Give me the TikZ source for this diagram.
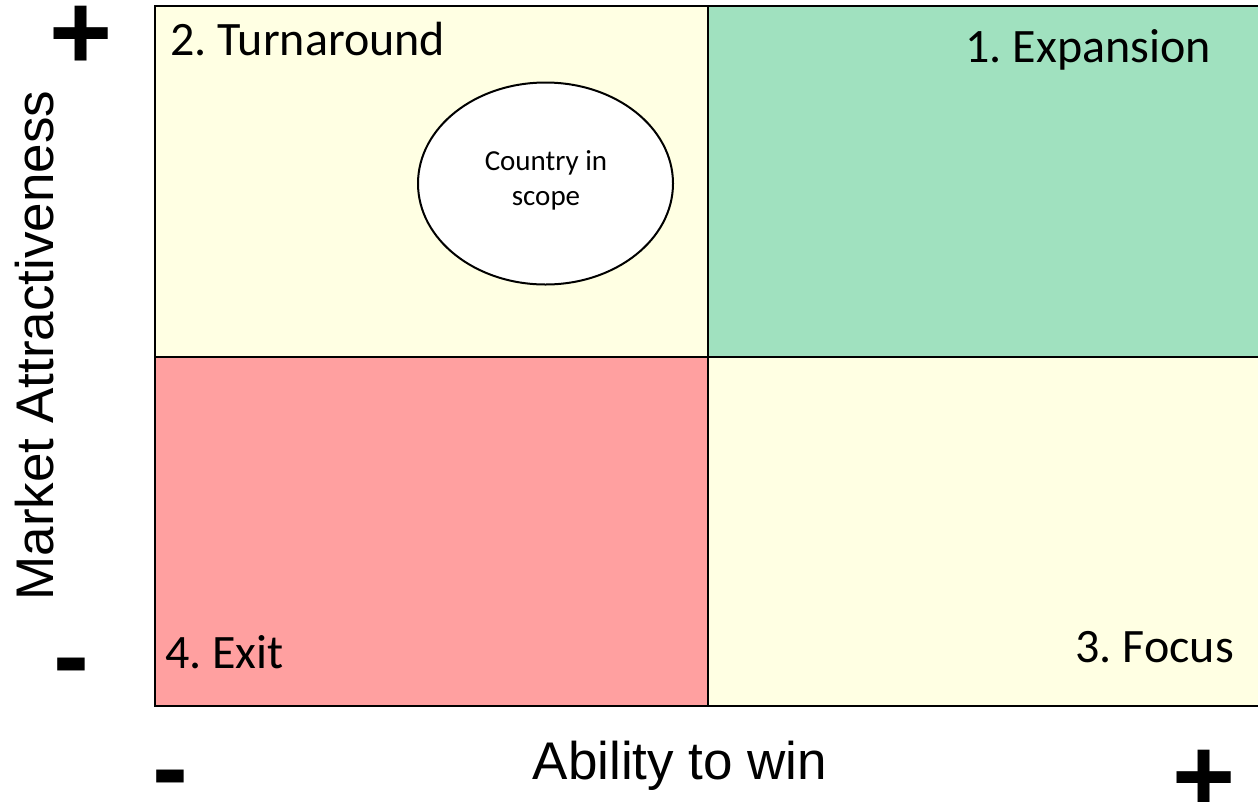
\documentclass[tikz,border=0pt]{standalone}
\usepackage{fontspec}
\setmainfont{Carlito}
\newfontfamily\axisfont{Liberation Sans}
\usetikzlibrary{shapes.geometric}
\definecolor{quadyellow}{HTML}{FFFFE3}
\definecolor{quadgreen}{HTML}{A0E1BF}
\definecolor{quadred}{HTML}{FFA0A0}
\frenchspacing
\tikzset{
  quad/.style={draw=black, line width=2pt, anchor=north west, inner sep=0pt, outer sep=0pt},
  quadlabel/.style={font=\fontsize{48}{57}\selectfont, inner sep=0pt},
  axislabel/.style={font=\axisfont\fontsize{53}{61}\selectfont, inner sep=0pt},
  signlabel/.style={font=\axisfont\bfseries\fontsize{108}{120}\selectfont, inner sep=0pt},
  countrybubble/.style={ellipse, draw=black, line width=2pt, fill=white,
    minimum width=255pt, minimum height=202pt, inner sep=0pt},
  bubbletext/.style={align=center, inner sep=0pt, font=\fontsize{29}{35}\selectfont},
}
\begin{document}
\begin{tikzpicture}[x=1pt,y=-1pt]
\useasboundingbox[fill=white] (0,0) rectangle (1258,801);

% the four quadrants
\node[quad, fill=quadyellow, minimum width=553pt, minimum height=351pt] (q2) at (155,6) {};
\node[quad, fill=quadgreen,  minimum width=560pt, minimum height=351pt] (q1) at (708,6) {};
\node[quad, fill=quadred,    minimum width=553pt, minimum height=349pt] (q4) at (155,357) {};
\node[quad, fill=quadyellow, minimum width=560pt, minimum height=349pt] (q3) at (708,357) {};

% quadrant titles
\node[quadlabel, anchor=base west] (t2) at (170,55)  {2. Turnaround};
\node[quadlabel, anchor=base east] (t1) at (1211,62) {1. Expansion};
\node[quadlabel, anchor=base west] (t4) at (165,668) {4. Exit};
\node[quadlabel, anchor=base east] (t3) at (1234,662) {3. Focus};

% position marker
\node[countrybubble] (country) at (545.5,183.5) {};
\node[bubbletext] (countrytext) at (546,180) {Country in\\scope};

% axes
\node[axislabel, rotate=90, anchor=base] (yaxis) at (53,345.5) {Market Attractiveness};
\node[axislabel, anchor=base] (xaxis) at (680,779) {Ability to win};

% axis ends
\node[signlabel, anchor=base] (yplus)  at (81,69)    {+};
\node[signlabel, anchor=base] (yminus) at (71.5,692) {-};
\node[signlabel, anchor=base] (xminus) at (170.5,804) {-};
\node[signlabel, anchor=base] (xplus)  at (1204.5,813) {+};
\end{tikzpicture}
\end{document}
